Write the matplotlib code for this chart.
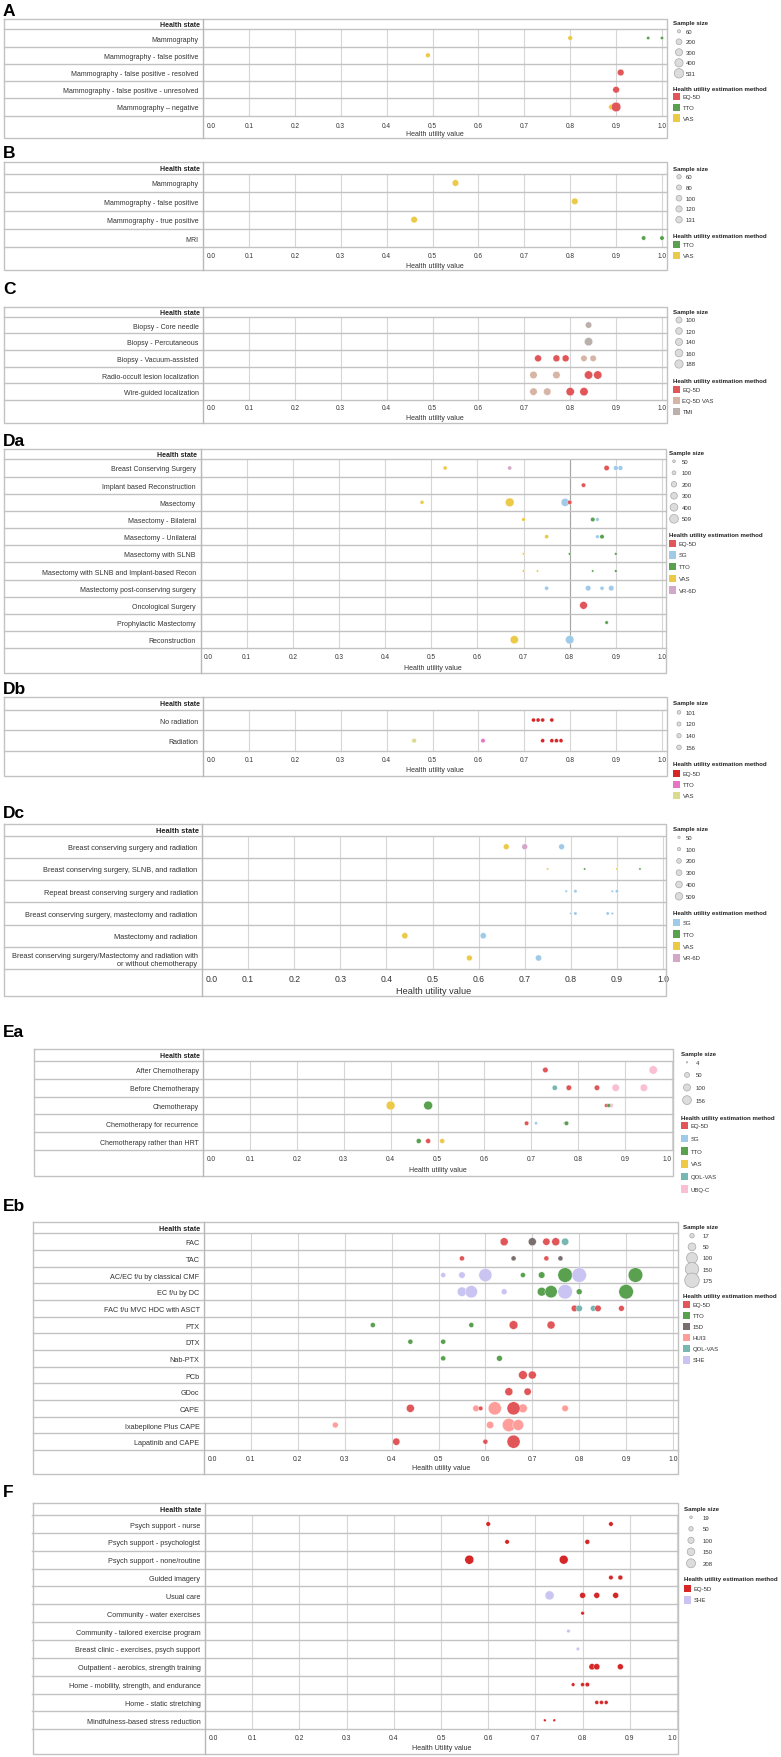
import matplotlib
matplotlib.use("Agg")
import matplotlib.pyplot as plt
from matplotlib.transforms import ScaledTranslation
import numpy as np

plt.rcParams['font.family'] = ['Liberation Sans', 'DejaVu Sans']

# ---------------- DATA ----------------
A_states = ['Mammography', 'Mammography - false positive', 'Mammography - false positive - resolved',
            'Mammography - false positive - unresolved', 'Mammography \u2013 negative']
A_row = [0, 0, 0, 1, 2, 3, 4, 4]
A_value = [0.80, 0.97, 1.00, 0.49, 0.91, 0.90, 0.89, 0.90]
A_method = ['VAS', 'TTO', 'TTO', 'VAS', 'EQ-5D', 'EQ-5D', 'VAS', 'EQ-5D']
A_n = [130, 60, 60, 130, 260, 260, 190, 531]
A_size_ticks = [60, 200, 300, 400, 531]
A_methods = ['EQ-5D', 'TTO', 'VAS']

B_states = ['Mammography', 'Mammography - false positive', 'Mammography - true positive', 'MRI']
B_row = [0, 1, 2, 3, 3]
B_value = [0.55, 0.81, 0.46, 0.96, 1.00]
B_method = ['VAS', 'VAS', 'VAS', 'TTO', 'TTO']
B_n = [131, 131, 131, 60, 60]
B_size_ticks = [60, 80, 100, 120, 131]
B_methods = ['TTO', 'VAS']

C_states = ['Biopsy - Core needle', 'Biopsy - Percutaneous', 'Biopsy - Vacuum-assisted',
            'Radio-occult lesion localization', 'Wire-guided localization']
C_row = [0, 1, 2, 2, 2, 2, 2, 3, 3, 3, 3, 4, 4, 4, 4]
C_value = [0.84, 0.84, 0.73, 0.77, 0.79, 0.83, 0.85, 0.72, 0.77, 0.84, 0.86, 0.72, 0.75, 0.80, 0.83]
C_method = ['TMI', 'TMI', 'EQ-5D', 'EQ-5D', 'EQ-5D', 'EQ-5D VAS', 'EQ-5D VAS', 'EQ-5D VAS', 'EQ-5D VAS',
            'EQ-5D', 'EQ-5D', 'EQ-5D VAS', 'EQ-5D VAS', 'EQ-5D', 'EQ-5D']
C_n = [110, 188, 130, 130, 130, 110, 110, 150, 150, 188, 188, 150, 150, 188, 188]
C_size_ticks = [100, 120, 140, 160, 188]
C_methods = ['EQ-5D', 'EQ-5D VAS', 'TMI']

Da_states = ['Breast Conserving Surgery', 'Implant based Reconstruction', 'Masectomy', 'Masectomy - Bilateral',
             'Masectomy - Unilateral', 'Masectomy with SLNB', 'Masectomy with SLNB and Implant-based Recon',
             'Mastectomy post-conserving surgery', 'Oncological Surgery', 'Prophylactic Mastectomy', 'Reconstruction']
Da_row = [0, 0, 0, 0, 0, 1, 2, 2, 2, 2, 3, 3, 3, 4, 4, 4, 5, 5, 5, 6, 6, 6, 6, 7, 7, 7, 7, 8, 9, 10, 10]
Da_value = [0.53, 0.67, 0.88, 0.90, 0.91, 0.83, 0.48, 0.67, 0.79, 0.80, 0.70, 0.85, 0.86, 0.75, 0.86, 0.87,
            0.70, 0.80, 0.90, 0.70, 0.73, 0.85, 0.90, 0.75, 0.84, 0.87, 0.89, 0.83, 0.88, 0.68, 0.80]
Da_method = ['VAS', 'VR-6D', 'EQ-5D', 'SG', 'SG', 'EQ-5D', 'VAS', 'VAS', 'SG', 'EQ-5D', 'VAS', 'TTO', 'SG',
             'VAS', 'SG', 'TTO', 'VAS', 'TTO', 'TTO', 'VAS', 'VAS', 'TTO', 'TTO', 'SG', 'SG', 'SG', 'SG',
             'EQ-5D', 'TTO', 'VAS', 'SG']
Da_n = [110, 110, 190, 150, 150, 130, 100, 509, 430, 130, 90, 130, 90, 110, 90, 130, 40, 45, 45, 40, 35, 35, 45,
        110, 200, 110, 200, 400, 80, 450, 480]
Da_size_ticks = [50, 100, 200, 300, 400, 509]
Da_methods = ['EQ-5D', 'SG', 'TTO', 'VAS', 'VR-6D']

Db_states = ['No radiation', 'Radiation']
Db_row = [0, 0, 0, 0, 1, 1, 1, 1, 1, 1]
Db_value = [0.72, 0.73, 0.74, 0.76, 0.46, 0.61, 0.74, 0.76, 0.77, 0.78]
Db_method = ['EQ-5D', 'EQ-5D', 'EQ-5D', 'EQ-5D', 'VAS', 'TTO', 'EQ-5D', 'EQ-5D', 'EQ-5D', 'EQ-5D']
Db_n = [120, 120, 120, 120, 156, 140, 120, 120, 120, 120]
Db_size_ticks = [101, 120, 140, 156]
Db_methods = ['EQ-5D', 'TTO', 'VAS']

Dc_states = ['Breast conserving surgery and radiation', 'Breast conserving surgery, SLNB, and radiation',
             'Repeat breast conserving surgery and radiation', 'Breast conserving surgery, mastectomy and radiation',
             'Mastectomy and radiation',
             'Breast conserving surgery/Mastectomy and radiation with\nor without chemotherapy']
Dc_row = [0, 0, 0, 1, 1, 1, 1, 2, 2, 2, 2, 3, 3, 3, 3, 4, 4, 5, 5]
Dc_value = [0.66, 0.70, 0.78, 0.75, 0.83, 0.90, 0.95, 0.79, 0.81, 0.89, 0.90, 0.80, 0.81, 0.88, 0.89,
            0.44, 0.61, 0.58, 0.73]
Dc_method = ['VAS', 'VR-6D', 'SG', 'VAS', 'TTO', 'VAS', 'TTO', 'SG', 'SG', 'SG', 'SG', 'SG', 'SG', 'SG', 'SG',
             'VAS', 'SG', 'VAS', 'SG']
Dc_n = [300, 300, 300, 45, 45, 45, 45, 55, 100, 55, 100, 55, 100, 100, 55, 340, 340, 300, 340]
Dc_size_ticks = [50, 100, 200, 300, 400, 509]
Dc_methods = ['SG', 'TTO', 'VAS', 'VR-6D']

Ea_states = ['After Chemotherapy', 'Before Chemotherapy', 'Chemotherapy', 'Chemotherapy for recurrence',
             'Chemotherapy rather than HRT']
Ea_row = [0, 0, 1, 1, 1, 1, 1, 2, 2, 2, 2, 2, 3, 3, 3, 3, 4, 4, 4]
Ea_value = [0.73, 0.96, 0.75, 0.78, 0.84, 0.88, 0.94, 0.40, 0.48, 0.86, 0.87, 0.865, 0.69, 0.71, 0.77, 0.775,
            0.46, 0.48, 0.51]
Ea_method = ['EQ-5D', 'UBQ-C', 'QOL-VAS', 'EQ-5D', 'EQ-5D', 'UBQ-C', 'UBQ-C', 'VAS', 'TTO', 'EQ-5D', 'UBQ-C',
             'TTO', 'EQ-5D', 'SG', 'EQ-5D', 'TTO', 'TTO', 'EQ-5D', 'VAS']
Ea_n = [60, 140, 55, 60, 60, 110, 110, 156, 156, 28, 40, 28, 40, 20, 4, 40, 50, 50, 50]
Ea_size_ticks = [4, 50, 100, 156]
Ea_methods = ['EQ-5D', 'SG', 'TTO', 'VAS', 'QOL-VAS', 'UBQ-C']

Eb_states = ['FAC', 'TAC', 'AC/EC f/u by classical CMF', 'EC f/u by DC', 'FAC f/u MVC HDC with ASCT', 'PTX',
             'DTX', 'Nab-PTX', 'PCb', 'GDoc', 'CAPE', 'Ixabepilone Plus CAPE', 'Lapatinib and CAPE']
Eb_row = [0, 0, 0, 0, 0, 0,
          1, 1, 1, 1,
          2, 2, 2, 2, 2, 2, 2, 2,
          3, 3, 3, 3, 3, 3, 3, 3,
          4, 4, 4, 4, 4,
          5, 5, 5, 5,
          6, 6,
          7, 7,
          8, 8,
          9, 9,
          10, 10, 10, 10, 10, 10, 10,
          11, 11, 11, 11,
          12, 12, 12]
Eb_value = [0.64, 0.70, 0.73, 0.75, 0.75, 0.77,
            0.55, 0.66, 0.73, 0.76,
            0.51, 0.55, 0.60, 0.68, 0.72, 0.77, 0.80, 0.92,
            0.55, 0.57, 0.64, 0.72, 0.74, 0.77, 0.80, 0.90,
            0.79, 0.80, 0.83, 0.84, 0.89,
            0.36, 0.57, 0.66, 0.74,
            0.44, 0.51,
            0.51, 0.63,
            0.68, 0.70,
            0.65, 0.69,
            0.44, 0.58, 0.59, 0.62, 0.68, 0.66, 0.77,
            0.28, 0.61, 0.65, 0.67,
            0.41, 0.60, 0.66]
Eb_method = ['EQ-5D', '15D', 'EQ-5D', '15D', 'EQ-5D', 'QOL-VAS',
             'EQ-5D', '15D', 'EQ-5D', '15D',
             'SHE', 'SHE', 'SHE', 'TTO', 'TTO', 'TTO', 'SHE', 'TTO',
             'SHE', 'SHE', 'SHE', 'TTO', 'TTO', 'SHE', 'TTO', 'TTO',
             'EQ-5D', 'QOL-VAS', 'QOL-VAS', 'EQ-5D', 'EQ-5D',
             'TTO', 'TTO', 'EQ-5D', 'EQ-5D',
             'TTO', 'TTO',
             'TTO', 'TTO',
             'EQ-5D', 'EQ-5D',
             'EQ-5D', 'EQ-5D',
             'EQ-5D', 'HUI3', 'EQ-5D', 'HUI3', 'HUI3', 'EQ-5D', 'HUI3',
             'HUI3', 'HUI3', 'HUI3', 'HUI3',
             'EQ-5D', 'EQ-5D', 'EQ-5D']
Eb_n = [53, 53, 44, 40, 53, 44,
        21, 21, 21, 21,
        21, 35, 142, 21, 35, 175, 175, 175,
        74, 126, 28, 63, 126, 175, 28, 175,
        35, 35, 28, 35, 28,
        21, 21, 63, 53,
        21, 21,
        21, 28,
        63, 53,
        53, 44,
        53, 35, 17, 142, 63, 142, 35,
        28, 44, 142, 98,
        44, 21, 142]
Eb_size_ticks = [17, 50, 100, 150, 175]
Eb_methods = ['EQ-5D', 'TTO', '15D', 'HUI3', 'QOL-VAS', 'SHE']

F_states = ['Psych support - nurse', 'Psych support - psychologist', 'Psych support - none/routine',
            'Guided imagery', 'Usual care', 'Community - water exercises', 'Community - tailored exercise program',
            'Breast clinic - exercises, psych support', 'Outpatient - aerobics, strength training',
            'Home - mobility, strength, and endurance', 'Home - static stretching',
            'Mindfulness-based stress reduction']
F_row = [0, 0, 1, 1, 2, 2, 3, 3, 4, 4, 4, 4, 5, 6, 7, 8, 8, 8, 9, 9, 9, 10, 10, 10, 11, 11]
F_value = [0.60, 0.86, 0.64, 0.81, 0.56, 0.76, 0.86, 0.88, 0.73, 0.80, 0.83, 0.87, 0.80, 0.77, 0.79,
           0.82, 0.83, 0.88, 0.78, 0.80, 0.81, 0.83, 0.84, 0.85, 0.72, 0.74]
F_method = ['EQ-5D'] * 8 + ['SHE', 'EQ-5D', 'EQ-5D', 'EQ-5D', 'EQ-5D', 'SHE', 'SHE'] + ['EQ-5D'] * 11
F_n = [52, 52, 52, 60, 208, 200, 52, 60, 208, 90, 90, 90, 33, 33, 30, 100, 100, 90, 33, 40, 50, 40, 40, 40, 19, 19]
F_size_ticks = [19, 50, 100, 150, 208]
F_methods = ['EQ-5D', 'SHE']

# ---------------- STYLE ----------------
COLORS = {'EQ-5D': '#E15759', 'TTO': '#59A14F', 'VAS': '#EDC948', 'SG': '#A0CBE8', 'VR-6D': '#D4A6C8',
          'EQ-5D VAS': '#D7B5A6', 'TMI': '#BAB0AC', 'QOL-VAS': '#76B7B2', 'UBQ-C': '#FABFD2',
          '15D': '#79706E', 'HUI3': '#FF9D9A', 'SHE': '#CAC4F2'}
COLORS_Db = dict(COLORS, **{'EQ-5D': '#D62728', 'TTO': '#E377C2', 'VAS': '#DBDB8D'})
COLORS_F = dict(COLORS, **{'EQ-5D': '#D62728'})

W, H = 781, 1758
fig = plt.figure(figsize=(W / 100, H / 100), dpi=100)
fig.patch.set_facecolor('white')
TEXT = '#333333'
GRID = '#d6d6d6'
LINE = '#c2c2c2'

ov = fig.add_axes([0, 0, 1, 1], zorder=5)
ov.set_xlim(0, W)
ov.set_ylim(H, 0)
ov.axis('off')
ov.patch.set_alpha(0)


def pt(px):
    return px * 0.72


def px_axes(l, t, r, b, z=2):
    return fig.add_axes([l / W, 1 - b / H, (r - l) / W, (b - t) / H], zorder=z)


def draw_panel(letter, ly, states, row, value, method, n, size_ticks, methods, colors,
               geo, leg, fs, xlabel, dmax, dark08=False):
    L, T, R, B = geo['box']
    col, hb, rb, x1 = geo['col'], geo['hb'], geo['rb'], geo['x1']
    fs_row, fs_tick, fs_xl, fs_hdr = fs
    ov.text(3, ly, letter, fontsize=12.5, weight='bold', ha='left', va='center', color='black')
    ov.plot([L, R, R, L, L], [T, T, B, B, T], color=LINE, lw=1.0, solid_joinstyle='miter')
    ov.plot([col, col], [T, B], color='#b8b8b8', lw=1.0)
    ov.text(col - 3.5, (T + hb) / 2 + 0.5, 'Health state', fontsize=fs_hdr, weight='bold',
            ha='right', va='center', color='#222222')
    ax = px_axes(col, hb, R, rb)
    ax.set_facecolor('none')
    for s in ax.spines.values():
        s.set_visible(False)
    nrow = len(states)
    ax.set_xlim(0, (R - col) / (x1 - col))
    ax.set_ylim(nrow - 0.5, -0.5)
    ticks = np.round(np.arange(0, 1.0001, 0.1), 1)
    ax.set_xticks(ticks)
    ax.set_xticklabels(['%.1f' % t for t in ticks], fontsize=fs_tick, color=TEXT)
    pad_px = geo['tick_y'] - rb - 0.5 * fs_tick / 0.72
    ax.tick_params(axis='x', length=0, pad=pt(pad_px))
    labs = ax.get_xticklabels()
    labs[0].set_ha('left')
    labs[0].set_transform(labs[0].get_transform() + ScaledTranslation(3.5 / 100, 0, fig.dpi_scale_trans))
    if R - x1 < 3:
        labs[-1].set_ha('right')
    ax.grid(axis='x', color=GRID, lw=0.8)
    ax.set_axisbelow(True)
    if dark08:
        ax.axvline(0.8, color='#a5a5a5', lw=0.8, zorder=0.6)
    ax.set_yticks(range(nrow))
    ax.set_yticklabels(states, fontsize=fs_row, color=TEXT)
    ax.tick_params(axis='y', length=0, pad=pt(4.5))
    colfrac = (col - L) / (R - col)
    for k in range(nrow + 1):
        ax.axhline(k - 0.5, xmin=-colfrac, xmax=1, color=LINE, lw=1.0, clip_on=False, zorder=1)
    ax.set_xlabel(xlabel, fontsize=fs_xl, color=TEXT)
    ax.xaxis.set_label_coords(0.5, -(geo['xl_y'] - rb) / (rb - hb))
    ax.xaxis.label.set_va('center')
    nmax = float(max(size_ticks))
    k2 = pt(dmax) ** 2 / nmax
    ax.scatter(value, row, s=k2 * np.array(n, dtype=float), c=[colors[m] for m in method],
               edgecolors='white', linewidths=0.25, zorder=3, clip_on=False)
    tx, cx, txx, st_y, s0, sd, mt_y, m0, md = leg
    ov.text(tx, st_y, 'Sample size', fontsize=4.4, weight='bold', ha='left', va='center', color='#222222')
    sy = [s0 + i * sd for i in range(len(size_ticks))]
    ov.scatter([cx] * len(size_ticks), sy, s=k2 * np.array(size_ticks, dtype=float), facecolor='#dcdcdc',
               edgecolor='#a8a8a8', linewidths=0.5, zorder=3)
    for yv, v in zip(sy, size_ticks):
        ov.text(txx, yv, str(v), fontsize=4.3, ha='left', va='center', color=TEXT)
    ov.text(tx, mt_y, 'Health utility estimation method', fontsize=4.4, weight='bold', ha='left',
            va='center', color='#222222')
    my = [m0 + i * md for i in range(len(methods))]
    ov.scatter([tx + 3.5] * len(methods), my, s=pt(7.5) ** 2, marker='s', c=[colors[m] for m in methods],
               linewidths=0, zorder=3)
    for yv, m in zip(my, methods):
        ov.text(tx + 9.5, yv, m, fontsize=4.3, ha='left', va='center', color=TEXT)


FS = (5.0, 4.7, 5.0, 5.0)
FS_Dc = (5.3, 6.2, 6.6, 5.4)
FS_E = (5.2, 4.9, 5.1, 5.2)

draw_panel('A', 11.7, A_states, A_row, A_value, A_method, A_n, A_size_ticks, A_methods, COLORS,
           dict(box=(4, 20, 667, 139), col=203, hb=30.4, rb=116.6, x1=662, tick_y=126, xl_y=135),
           (673, 679, 686, 24, 32.3, 10.5, 89.3, 97.7, 10.7), FS, 'Health utility value', 9.5)
draw_panel('B', 153, B_states, B_row, B_value, B_method, B_n, B_size_ticks, B_methods, COLORS,
           dict(box=(4, 163, 667, 271), col=203, hb=174.8, rb=248.2, x1=662, tick_y=256.7, xl_y=266),
           (673, 679, 686, 169, 177.7, 10.75, 236.7, 245.7, 11), FS, 'Health utility value', 6.5)
draw_panel('C', 290, C_states, C_row, C_value, C_method, C_n, C_size_ticks, C_methods, COLORS,
           dict(box=(4, 308, 667, 424), col=203, hb=317.7, rb=401, x1=662, tick_y=408, xl_y=418),
           (673, 679, 686, 312.7, 321, 11, 381, 390.7, 11), FS, 'Health utility value', 8.3)
draw_panel('Da', 441.7, Da_states, Da_row, Da_value, Da_method, Da_n, Da_size_ticks, Da_methods, COLORS,
           dict(box=(4, 450, 666, 674), col=200.5, hb=460.4, rb=649.3, x1=662, tick_y=657.7, xl_y=668),
           (669, 674, 682, 453.7, 462.3, 11.5, 535.7, 544.3, 11.7), FS, 'Health utility value', 8.7,
           dark08=True)
draw_panel('Db', 690, Db_states, Db_row, Db_value, Db_method, Db_n, Db_size_ticks, Db_methods, COLORS_Db,
           dict(box=(4, 698, 667, 777), col=203, hb=710.7, rb=752, x1=662, tick_y=760, xl_y=771),
           (673, 679, 686, 704, 713.3, 11.7, 765, 774.3, 11.2), FS, 'Health utility value', 4.6)
draw_panel('Dc', 814, Dc_states, Dc_row, Dc_value, Dc_method, Dc_n, Dc_size_ticks, Dc_methods, COLORS,
           dict(box=(4, 825, 666, 997), col=202, hb=836.6, rb=970.1, x1=663, tick_y=979, xl_y=991),
           (673, 679, 686, 829.3, 838.3, 11.8, 913.3, 923.3, 11.9), FS_Dc, 'Health utility value', 7.5)
draw_panel('Ea', 1033, Ea_states, Ea_row, Ea_value, Ea_method, Ea_n, Ea_size_ticks, Ea_methods, COLORS,
           dict(box=(34, 1050, 673, 1176.7), col=203, hb=1062.1, rb=1150.9, x1=672, tick_y=1159, xl_y=1170.7),
           (681, 687, 696, 1054.3, 1063.3, 12.6, 1118.7, 1126.7, 12.7), FS, 'Health utility value', 8.8)
draw_panel('Eb', 1207, Eb_states, Eb_row, Eb_value, Eb_method, Eb_n, Eb_size_ticks, Eb_methods, COLORS,
           dict(box=(32.5, 1223, 678, 1475), col=204, hb=1234.4, rb=1451, x1=673, tick_y=1459, xl_y=1469),
           (683, 692, 703, 1227.7, 1236.7, 11.15, 1297, 1305.3, 11.1), FS_E, 'Health utility value', 14.5)
draw_panel('F', 1492.7, F_states, F_row, F_value, F_method, F_n, F_size_ticks, F_methods, COLORS_F,
           dict(box=(32.5, 1504, 678, 1755), col=205, hb=1516.1, rb=1730.2, x1=677, tick_y=1738, xl_y=1749),
           (684, 691, 703, 1509.3, 1518.3, 11.5, 1580, 1589.3, 11.7), FS_E, 'Health Utility value', 9.0)

fig.savefig('out.png', dpi=100, facecolor='white')
